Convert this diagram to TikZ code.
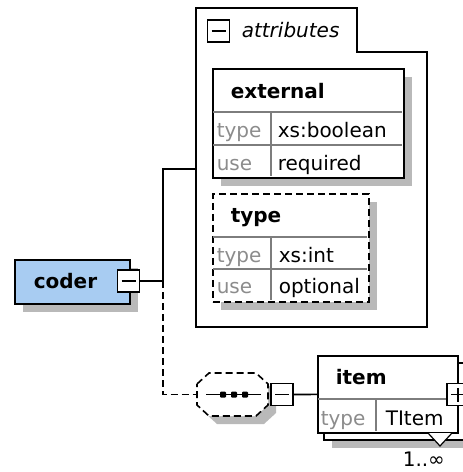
\documentclass[tikz,border=0pt]{standalone}
\usepackage{fontspec}
\setmainfont{DejaVu Sans}
\usetikzlibrary{shadows}
\definecolor{coderblue}{RGB}{168,204,242}
\definecolor{shadowgray}{RGB}{185,185,185}
\definecolor{rulegray}{RGB}{125,125,125}
\definecolor{keygray}{RGB}{140,140,140}

\begin{document}
\begin{tikzpicture}[x=1pt,y=-1pt,line width=1.6pt,
	txt/.style={anchor=base west,inner sep=0,font=\fontsize{20}{24}\selectfont},
	head/.style={txt,font=\fontsize{20}{24}\selectfont\bfseries},
	key/.style={txt,text=keygray},
	shade/.style={drop shadow={shadow xshift=8pt,shadow yshift=-8pt,fill=shadowgray,opacity=1}},
	elem/.style={draw,fill=white,inner sep=0,anchor=north west,shade},
	optional/.style={dash pattern=on 7pt off 4pt},
	sign/.style={draw,fill=white,inner sep=0,minimum size=22pt,
		path picture={\draw[line width=1.4pt] ([xshift=4pt]path picture bounding box.west) -- ([xshift=-4pt]path picture bounding box.east);}},
	plus/.style={draw,fill=white,inner sep=0,minimum size=22pt,
		path picture={\draw[line width=1.4pt] ([xshift=4pt]path picture bounding box.west) -- ([xshift=-4pt]path picture bounding box.east)
			([yshift=4pt]path picture bounding box.south) -- ([yshift=-4pt]path picture bounding box.north);}},
	grid/.style={rulegray,line width=1.2pt}]
\useasboundingbox (0,0) rectangle (463,472);

% attribute group
\draw (196,8) -- (357,8) -- (357,52) -- (427,52) -- (427,327) -- (196,327) -- cycle;
\coordinate (attr) at (196,169);
\node[sign] (attrsign) at (218.5,31) {};
\node[txt,font=\fontsize{20}{24}\selectfont\itshape] (attrtext) at (241,37) {attributes};

% external
\node[elem,minimum width=191pt,minimum height=109pt] (ext) at (212,68) {};
\draw[grid] (213,112) -- (402,112) (213,145) -- (402,145) (271,112) -- (271,176);
\node[head] (extname) at (230,98) {external};
\node[key] (exttypekey) at (216,137) {type};
\node[txt] (exttype) at (277,137) {xs:boolean};
\node[key] (extusekey) at (216,170) {use};
\node[txt] (extuse) at (277,170) {required};

% type
\node[elem,optional,minimum width=156pt,minimum height=108pt] (typ) at (212,193) {};
\draw[grid] (213,237) -- (367,237) (213,269) -- (367,269) (271,237) -- (271,300);
\node[head] (typname) at (230,222) {type};
\node[key] (typtypekey) at (216,262) {type};
\node[txt] (typtype) at (278,262) {xs:int};
\node[key] (typusekey) at (216,293) {use};
\node[txt] (typuse) at (278,293) {optional};

% coder
\node[elem,fill=coderblue,minimum width=115pt,minimum height=44pt] (coder) at (14,259) {};
\node[head] (codername) at (33,288) {coder};
\node[sign] (codersign) at (128.5,281) {};
\coordinate (fork) at (163,281);

% sequence
\node[inner sep=0,minimum width=71pt,minimum height=43pt] (seq) at (232.5,394.5) {};
\draw[optional,fill=white,shade] (197,384) -- (209,373) -- (256,373) -- (268,384)
	-- (268,405) -- (256,416) -- (209,416) -- (197,405) -- cycle;
\draw[line width=1.4pt] ([xshift=10pt]seq.west) -- ([xshift=-8pt]seq.east);
\foreach \dx in {-9.5,1.5,12.5}
	\fill[rounded corners=1pt] ([xshift=\dx pt-3pt,yshift=3pt]seq.center) rectangle +(6,6);
\node[sign] (seqsign) at (282,394.5) {};

% item
\node[elem,minimum width=140pt,minimum height=77pt] (itemback) at (323,362) {};
\node[draw,fill=white,anchor=north west,inner sep=0,minimum width=140pt,minimum height=77pt] (item) at (317,355) {};
\draw[grid] (318,399) -- (456,399) (376,399) -- (376,431);
\node[head] (itemname) at (335,384) {item};
\node[key] (itemtypekey) at (320,425) {type};
\node[txt] (itemtype) at (385,425) {TItem};
\node[plus] (itemsign) at (458,394.5) {};
\draw[fill=white,line width=1.2pt] (428,433) -- (440,446) -- (452,433);
\node[txt] (card) at (402,466) {1..∞};

% connectors
\draw (codersign) -- (fork) |- (attr);
\draw[optional] (fork) |- (seq);
\draw (seqsign) -- (item);
\end{tikzpicture}
\end{document}
